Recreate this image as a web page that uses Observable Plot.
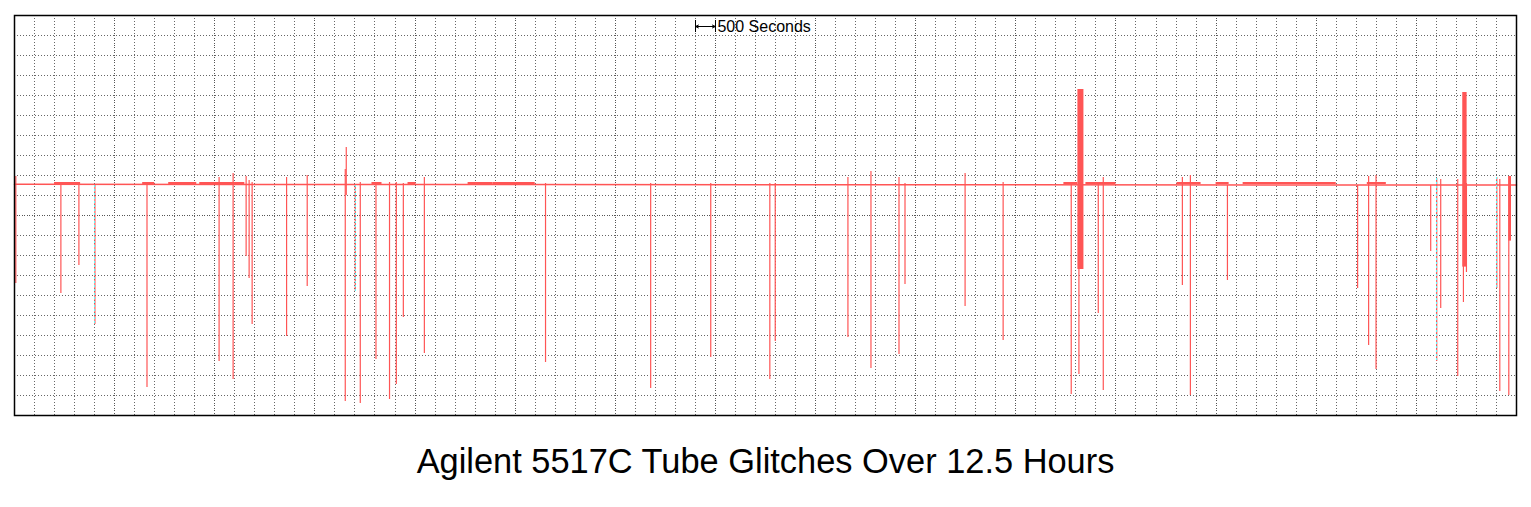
<!DOCTYPE html>
<html>
<head>
<meta charset="utf-8">
<script src="https://cdn.jsdelivr.net/npm/d3@7"></script>
<script src="https://cdn.jsdelivr.net/npm/@observablehq/plot@0.6"></script>
<style>
  html, body { margin: 0; padding: 0; background: #fff; }
  #chart { width: 1531px; }
  #title { width: 1531px; text-align: center; font-family: "Liberation Sans", Arial, sans-serif; font-size: 34.4px; line-height: 38px; color: #000; margin-top: 22px; }
</style>
</head>
<body>
<div id="chart"></div>
<div id="title">Agilent 5517C Tube Glitches Over 12.5 Hours</div>
<script>
// time in seconds, signal in grid units
const spikeTime   = [33,1158,1608,2008,3308,5108,5458,5783,5858,5933,6793,7308,8258,8283,8508,8633,9025,9363,9533,9708,10233,13258,15883,17383,18858,18993,20808,21383,22083,22233,23733,24683,26383,26575,27058,27183,29158,29358,30283,33533,33808,33993,35358,35508,35608,36033,36175,36250,37008,37083,37308];
const spikeTop    = [1.95,1.6,1.6,1.5,1.6,1.9,2.1,1.95,1.75,1.65,1.9,2.0,2.3,3.4,1.5,1.65,1.6,1.65,1.65,1.6,1.9,1.6,1.6,1.6,1.6,1.6,1.9,2.2,1.9,1.6,2.1,1.65,1.65,1.6,1.6,1.9,1.9,2.0,1.5,1.5,1.95,2.0,1.5,1.85,1.8,1.8,1.6,1.6,1.9,1.8,1.95];
const spikeBottom = [-3.4,-3.9,-2.5,-5.45,-8.6,-7.3,-8.2,-2.05,-3.15,-5.45,-6.05,-3.55,-9.3,1.0,-3.8,-9.4,-7.2,-9.2,-8.45,-5.1,-6.9,-7.35,-8.65,-7.1,-8.2,-6.3,-6.1,-7.65,-6.95,-3.45,-4.55,-6.25,-8.95,-7.95,-4.9,-8.75,-3.5,-9.0,-3.25,-3.65,-6.5,-7.7,-1.8,-7.3,-4.65,-8.05,-4.35,-2.85,-3.65,-8.8,-9.0];
const dashedSpikeTime = [2008, 8508, 35508, 37008];

const burstStart  = [26550, 36158, 37308];
const burstEnd    = [26700, 36267, 37375];
const burstTop    = [6.3, 6.15, 1.95];
const burstBottom = [-2.7, -2.58, -1.28];

const thickStart = [1000,3200,3850,4625,8925,9825,11325,11950,26200,26750,29025,30000,30675,33775];
const thickEnd   = [1650,3500,4550,5750,9175,10025,11950,13000,26550,27500,29625,30325,33000,34250];

const baselineTime  = [0, 37500];
const baselineValue = [1.56, 1.52];

const timeMax = 37500;
const gridStep = 500;
const majorStep = 2500;
const scaleBar = {start: 17000, end: 17500, level: 9.45, label: "500 Seconds"};

const red = "#ff5555";

const spikes = spikeTime.map((t, i) => ({t, top: spikeTop[i], bottom: spikeBottom[i]}));
const dashed = spikes.filter(d => dashedSpikeTime.includes(d.t));
const bursts = burstStart.map((s, i) => ({s, e: burstEnd[i], top: burstTop[i], bottom: burstBottom[i]}));
const thick = thickStart.map((s, i) => ({s, e: thickEnd[i]}));
const baseline = baselineTime.map((t, i) => ({t, v: baselineValue[i]}));

const gridX = d3.range(gridStep, timeMax, gridStep);
const minorX = gridX.filter(t => t % majorStep !== 0);
const majorX = gridX.filter(t => t % majorStep === 0);
const gridY = d3.range(-9, 10);
const minorY = gridY.filter(v => v !== 0);

const chart = Plot.plot({
  width: 1531,
  height: 420,
  marginLeft: 14,
  marginRight: 15,
  marginTop: 15,
  marginBottom: 5,
  x: {domain: [0, timeMax], axis: null},
  y: {domain: [-10, 10], axis: null},
  style: {background: "#fff", fontFamily: "'Liberation Sans', Arial, sans-serif"},
  marks: [
    Plot.ruleX(minorX, {stroke: "#666", strokeDasharray: "1,2", strokeWidth: 1, shapeRendering: "crispEdges"}),
    Plot.ruleX(majorX, {stroke: "#555", strokeDasharray: "1,1.5", strokeWidth: 1, shapeRendering: "crispEdges"}),
    Plot.ruleY(minorY, {stroke: "#666", strokeDasharray: "1,2", strokeWidth: 1, shapeRendering: "crispEdges"}),
    Plot.ruleY([0], {stroke: "#555", strokeDasharray: "1,1.5", strokeWidth: 1, shapeRendering: "crispEdges"}),
    Plot.line(baseline, {x: "t", y: "v", stroke: red, strokeWidth: 1.5}),
    Plot.rect(thick, {x1: "s", x2: "e", y1: 1.55, y2: 1.65, fill: red}),
    Plot.ruleX(spikes, {x: "t", y1: "top", y2: "bottom", stroke: red, strokeWidth: 1.2}),
    Plot.ruleX(dashed, {x: "t", y1: "top", y2: "bottom", stroke: "#55ffff", strokeWidth: 1, strokeDasharray: "2,2", shapeRendering: "crispEdges"}),
    Plot.rect(bursts, {x1: "s", x2: "e", y1: "bottom", y2: "top", fill: red}),
    Plot.ruleX([scaleBar.start, scaleBar.end], {y1: scaleBar.level - 0.3, y2: scaleBar.level + 0.3, stroke: "#000", strokeWidth: 1, shapeRendering: "crispEdges"}),
    Plot.arrow([{a: (scaleBar.start + scaleBar.end) / 2, b: scaleBar.start}, {a: (scaleBar.start + scaleBar.end) / 2, b: scaleBar.end}],
      {x1: "a", x2: "b", y1: scaleBar.level, y2: scaleBar.level, stroke: "#000", strokeWidth: 1, headLength: 5, headAngle: 50}),
    Plot.text([scaleBar], {x: "end", y: "level", text: "label", textAnchor: "start", dx: 2, fontSize: 16, fill: "#000"}),
    Plot.frame({stroke: "#000", strokeWidth: 1.5})
  ]
});
document.getElementById("chart").appendChild(chart);
</script>
</body>
</html>
